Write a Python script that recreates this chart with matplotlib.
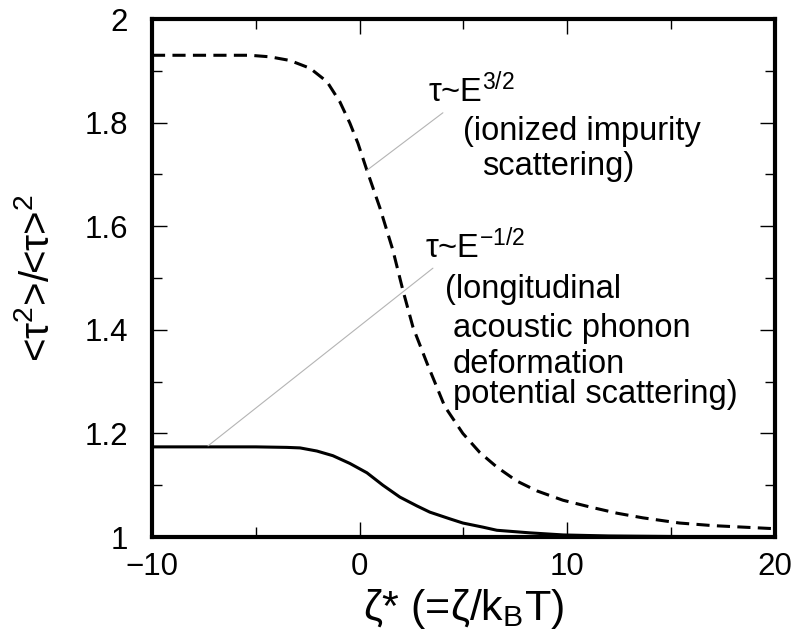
import numpy as np
import matplotlib
matplotlib.use("Agg")
import matplotlib.pyplot as plt
from matplotlib.ticker import MultipleLocator, FuncFormatter

# ==============================
# DATA
# ==============================
# tau ~ E^(3/2): ionized impurity scattering (dashed)
zeta_ii = [-10, -5.28, -4.32, -3.36, -2.39, -1.57, -0.95, -0.47, -0.08,
           0.35, 0.98, 1.60, 2.08, 2.57, 3.24, 4.1, 4.97, 5.79, 6.61,
           7.57, 8.54, 9.79, 11.09, 12.39, 13.64, 15.4, 17.0, 20]
ratio_ii = [1.930, 1.930, 1.927, 1.920, 1.905, 1.879, 1.840, 1.799, 1.760,
            1.708, 1.635, 1.554, 1.477, 1.405, 1.336, 1.252, 1.200, 1.163,
            1.135, 1.108, 1.089, 1.071, 1.058, 1.046, 1.037, 1.027, 1.022,
            1.016]

# tau ~ E^(-1/2): acoustic phonon deformation potential scattering (solid)
zeta_ap = [-10, -5, -3.5, -2.87, -2.06, -1.29, -0.47, 0.35, 1.12, 1.94,
           2.76, 3.38, 4.35, 4.97, 5.94, 6.61, 8.2, 9.8, 12, 15, 20]
ratio_ap = [1.174, 1.174, 1.173, 1.172, 1.166, 1.157, 1.142, 1.124, 1.100,
            1.077, 1.060, 1.048, 1.035, 1.027, 1.019, 1.013, 1.008, 1.004,
            1.002, 1.001, 1.000]

x_ticks = [-10, 0, 10, 20]
y_ticks = [1, 1.2, 1.4, 1.6, 1.8, 2]

# ==============================
# STYLE
# ==============================
plt.rcParams['font.family'] = ['Liberation Sans', 'DejaVu Sans']
plt.rcParams['mathtext.fontset'] = 'custom'
plt.rcParams['mathtext.rm'] = 'Liberation Sans'
plt.rcParams['mathtext.it'] = 'Liberation Sans'
plt.rcParams['mathtext.default'] = 'rm'

fig = plt.figure(figsize=(7.94, 6.38), dpi=100)
ax = fig.add_axes([0.1914, 0.1583, 0.7846, 0.8119])

ax.plot(zeta_ii, ratio_ii, color='black', lw=2.2, linestyle=(0, (4.3, 2.4)))
ax.plot(zeta_ap, ratio_ap, color='black', lw=2.2)

# leader lines from the labels to the curves
ax.annotate('', xy=(0.35, 1.708), xytext=(4.01, 1.819),
            arrowprops=dict(arrowstyle='-', color='#b4b4b4', lw=0.8,
                            shrinkA=0, shrinkB=0))
ax.annotate('', xy=(-7.3, 1.176), xytext=(3.53, 1.519),
            arrowprops=dict(arrowstyle='-', color='#b4b4b4', lw=0.8,
                            shrinkA=0, shrinkB=0))

fs = 23.5
ax.text(3.29, 1.840, r'$\tau$~E$^{3/2}$', fontsize=fs, va='baseline')
ax.text(4.97, 1.766, '(ionized impurity', fontsize=fs, va='baseline')
ax.text(5.89, 1.699, 'scattering)', fontsize=fs, va='baseline')
ax.text(3.14, 1.539, r'$\tau$~E$^{-1/2}$', fontsize=fs, va='baseline')
ax.text(4.11, 1.461, '(longitudinal', fontsize=fs, va='baseline')
ax.text(4.49, 1.386, 'acoustic phonon', fontsize=fs, va='baseline')
ax.text(4.49, 1.317, 'deformation', fontsize=fs, va='baseline')
ax.text(4.49, 1.259, 'potential scattering)', fontsize=fs, va='baseline')

ax.set_xlim(-10, 20)
ax.set_ylim(1, 2)
ax.set_xticks(x_ticks)
ax.set_yticks(y_ticks)
ax.xaxis.set_minor_locator(MultipleLocator(5))
ax.yaxis.set_minor_locator(MultipleLocator(0.1))
ax.yaxis.set_major_formatter(FuncFormatter(lambda v, p: f"{v:g}"))

ax.tick_params(which='both', direction='in', top=True, right=True, width=1)
ax.tick_params(which='major', length=11)
ax.tick_params(which='minor', length=7)
ax.tick_params(axis='x', labelsize=22.5, pad=11)
ax.tick_params(axis='y', labelsize=22.5, pad=17)
for sp in ax.spines.values():
    sp.set_linewidth(3)

ax.set_xlabel(r'$\zeta$* (=$\zeta$/k$_B$T)', fontsize=31)
ax.set_ylabel(r'<$\tau^2$>/<$\tau$>$^2$', fontsize=29)
ax.xaxis.set_label_coords(0.5, -0.096)
ax.yaxis.set_label_coords(-0.153, 0.5)

plt.savefig("out.png", dpi=100)
